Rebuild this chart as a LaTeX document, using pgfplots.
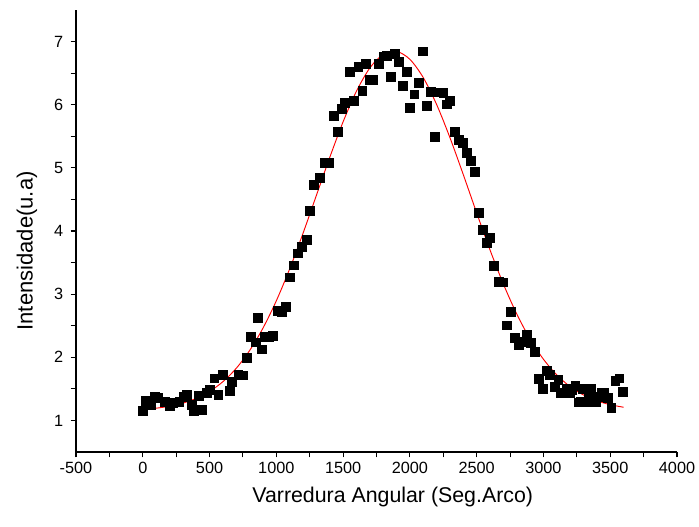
\documentclass[border=0pt]{standalone}
\usepackage{pgfplots}
\pgfplotsset{compat=1.18}
\usepackage{fontspec}
\setmainfont{Liberation Sans}
\begin{document}
\begin{tikzpicture}
\path[use as bounding box] (-57pt,-55.5pt) rectangle (467.25pt,339pt);
\begin{axis}[
  scale only axis,
  width=450.75pt, height=331.5pt,
  xmin=-500, xmax=4000, ymin=0.5, ymax=7.5,
  axis x line*=bottom, axis y line*=left,
  axis line style={line width=0.8pt,-},
  xtick={-500,0,...,4000}, ytick={1,2,...,7},
  minor x tick num=1, minor y tick num=1,
  tick align=outside,
  major tick length=4pt, minor tick length=4pt,
  tick style={line width=0.8pt,black},
  /pgf/number format/assume math mode=true,
  /pgf/number format/1000 sep={},
  ticklabel style={font=\fontsize{12.2}{14}\selectfont},
  yticklabel style={xshift=-2pt},
  xlabel={Varredura Angular (Seg.Arco)},
  ylabel={Intensidade(u.a)},
  every axis x label/.style={at={(axis description cs:0.527,-0.1026)},anchor=center,font=\fontsize{16}{18}\selectfont},
  every axis y label/.style={at={(axis description cs:-0.0815,0.455)},anchor=center,rotate=90,font=\fontsize{16.5}{18}\selectfont},
  clip=false,
]
\addplot[only marks, mark=square*, mark size=3.3pt, black, mark options={line width=0.1pt}] coordinates {
(0,1.16)(22,1.31)(57,1.25)(90,1.38)(115,1.36)(165,1.30)(202,1.23)(227,1.28)(272,1.30)(302,1.38)
(327,1.41)(365,1.25)(382,1.15)(415,1.39)(440,1.17)(477,1.44)(502,1.49)(534,1.67)(564,1.41)(597,1.73)
(647,1.47)(664,1.62)(714,1.73)(751,1.72)(776,1.99)(810,2.33)(846,2.24)(861,2.63)(891,2.13)(914,2.33)
(944,2.33)(971,2.35)(1011,2.74)(1041,2.72)(1071,2.80)(1101,3.27)(1131,3.46)(1161,3.65)(1191,3.75)(1228,3.87)
(1251,4.33)(1281,4.74)(1326,4.85)(1363,5.09)(1393,5.08)(1431,5.83)(1461,5.58)(1491,5.94)(1513,6.04)(1550,6.53)
(1580,6.07)(1612,6.61)(1642,6.23)(1670,6.65)(1700,6.40)(1725,6.40)(1768,6.65)(1800,6.77)(1825,6.78)(1855,6.44)
(1887,6.81)(1917,6.68)(1945,6.30)(1975,6.52)(2000,5.96)(2032,6.17)(2062,6.35)(2095,6.85)(2122,5.99)(2155,6.21)
(2182,5.49)(2212,6.20)(2249,6.19)(2272,6.01)(2300,6.07)(2332,5.58)(2362,5.45)(2392,5.40)(2425,5.24)(2455,5.12)
(2487,4.94)(2512,4.29)(2542,4.02)(2574,3.82)(2599,3.89)(2629,3.45)(2661,3.20)(2691,3.19)(2724,2.51)(2754,2.72)
(2786,2.31)(2816,2.20)(2848,2.25)(2873,2.36)(2906,2.23)(2936,2.09)(2961,1.66)(2994,1.50)(3024,1.79)(3048,1.73)
(3085,1.54)(3110,1.65)(3130,1.44)(3148,1.44)(3175,1.50)(3198,1.44)(3215,1.48)(3236,1.55)(3261,1.29)(3280,1.30)
(3294,1.50)(3323,1.29)(3340,1.44)(3356,1.50)(3393,1.30)(3410,1.38)(3436,1.44)(3453,1.45)(3478,1.36)(3506,1.21)
(3536,1.63)(3566,1.67)(3593,1.46)
};
\addplot[red, line width=0.7pt, smooth] coordinates {
(0,1.175)(100,1.194)(200,1.225)(300,1.274)(400,1.349)(500,1.458)(600,1.614)(700,1.826)(800,2.107)
(900,2.462)(1000,2.895)(1100,3.401)(1200,3.965)(1300,4.565)(1400,5.166)(1500,5.730)(1600,6.215)
(1700,6.582)(1800,6.798)(1900,6.845)(2000,6.719)(2100,6.430)(2200,6.004)(2300,5.478)(2400,4.892)
(2500,4.287)(2600,3.700)(2700,3.160)(2800,2.687)(2900,2.288)(3000,1.969)(3100,1.720)(3200,1.535)
(3300,1.403)(3400,1.311)(3500,1.249)(3600,1.209)
};
\end{axis}
\end{tikzpicture}
\end{document}
